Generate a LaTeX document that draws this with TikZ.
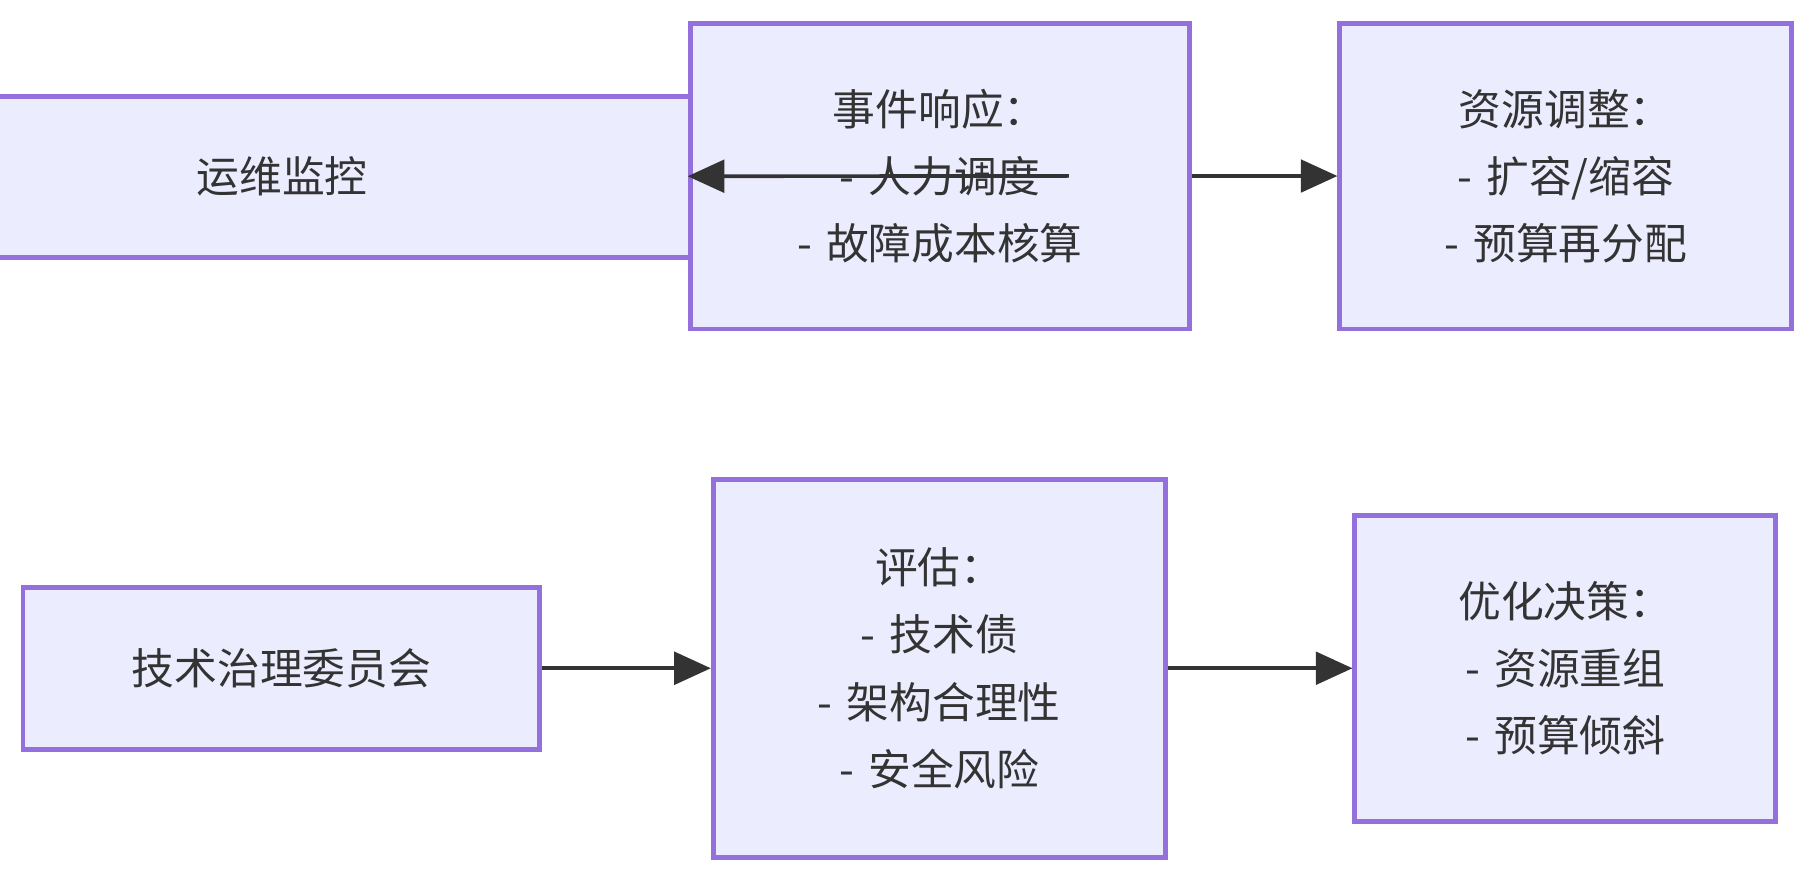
\documentclass[tikz,border=0pt]{standalone}
\usepackage{fontspec}
\setmainfont{Noto Sans CJK SC}
\usetikzlibrary{arrows.meta}
\definecolor{boxfill}{HTML}{ECECFF}
\definecolor{boxline}{HTML}{9370DB}
\definecolor{arrowc}{HTML}{333333}
\begin{document}
\begin{tikzpicture}[x=0.01cm,y=-0.01cm,
  box/.style={draw=boxline,fill=boxfill,line width=1.2pt,align=center,
    font=\fontsize{10.5}{16.5}\selectfont,text=arrowc,inner sep=0pt},
  flow/.style={-{Triangle[length=9pt,width=8pt]},draw=arrowc,line width=0.9pt}]
\useasboundingbox (0,0) rectangle (1568,761);

\node[box,minimum width=321\pgflinewidth,text width=3.21cm,minimum height=1.39cm] (mon) at (243.5,152.5) {运维监控};
\node[box,text width=4.31cm,minimum height=2.64cm] (resp) at (811.5,152) {事件响应：\\- 人力调度\\- 故障成本核算};
\node[box,text width=3.9cm,minimum height=2.64cm] (adj) at (1352,152) {资源调整：\\- 扩容/缩容\\- 预算再分配};

\node[box,text width=4.46cm,minimum height=1.4cm] (comm) at (243,577) {技术治理委员会};
\node[box,text width=3.9cm,minimum height=3.26cm] (eval) at (811,577) {评估：\\- 技术债\\- 架构合理性\\- 安全风险};
\node[box,text width=3.63cm,minimum height=2.64cm] (opt) at (1351.5,577) {优化决策：\\- 资源重组\\- 预算倾斜};

\draw[flow] (mon) -- (resp);
\draw[flow] (resp) -- (adj);
\draw[flow] (comm) -- (eval);
\draw[flow] (eval) -- (opt);
\end{tikzpicture}
\end{document}
